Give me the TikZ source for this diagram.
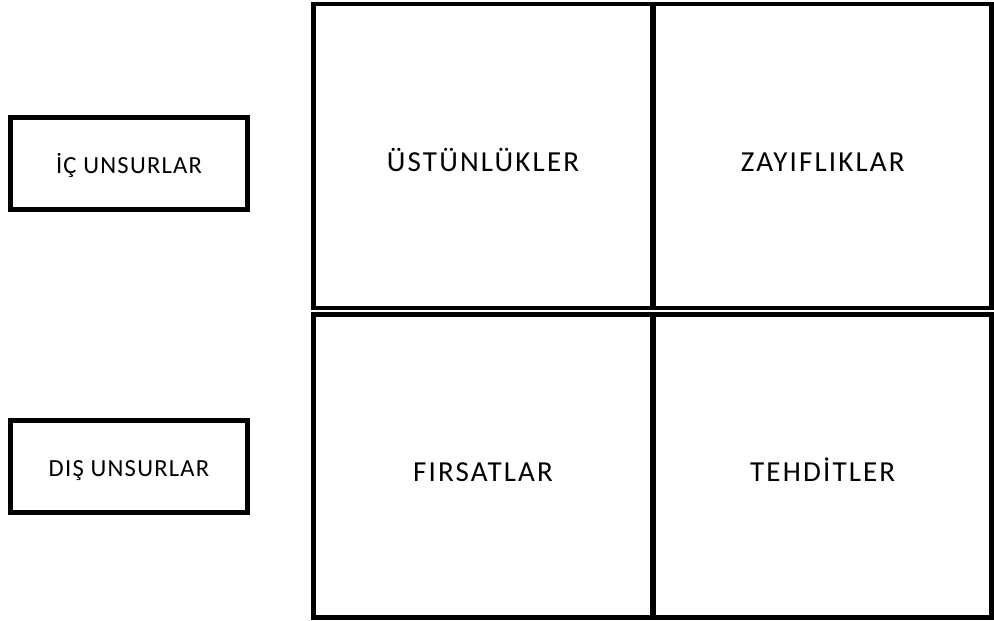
\documentclass[tikz,border=0pt]{standalone}
\usepackage{fontspec}
\setmainfont{Carlito}
\newfontfamily\sidefont[LetterSpace=5]{Carlito}
\newfontfamily\quadfont[LetterSpace=7.5]{Carlito}
\usepackage{tikz}
\usetikzlibrary{positioning}
\tikzset{
    sidebox/.style={rectangle, draw, line width=0.1cm, minimum width=4.74cm, minimum height=1.84cm, align=center, text height=11.2pt, text depth=0pt, font=\sidefont\fontsize{14}{16}\selectfont},
    quadrant/.style={rectangle, draw, line width=0.09cm, minimum height=6.08cm, align=center, text height=17.4pt, text depth=0pt, font=\quadfont\fontsize{16.5}{19}\selectfont}
}
\begin{document}
\begin{tikzpicture}[x=0.02cm, y=-0.02cm]
\useasboundingbox (0,0) rectangle (994,620);

\node[sidebox] (ic) at (129,163.5) {İÇ UNSURLAR};
\node[sidebox] (dis) at (129,466.5) {DIŞ UNSURLAR};

\node[quadrant, minimum width=6.78cm] (strengths) at (483,156) {ÜSTÜNLÜKLER};
\node[quadrant, minimum width=6.75cm] (weaknesses) at (822.75,156) {ZAYIFLIKLAR};
\node[quadrant, minimum width=6.78cm, minimum height=6.07cm] (opportunities) at (483,466) {FIRSATLAR};
\node[quadrant, minimum width=6.75cm, minimum height=6.07cm] (threats) at (822.75,466) {TEHDİTLER};

\end{tikzpicture}
\end{document}
